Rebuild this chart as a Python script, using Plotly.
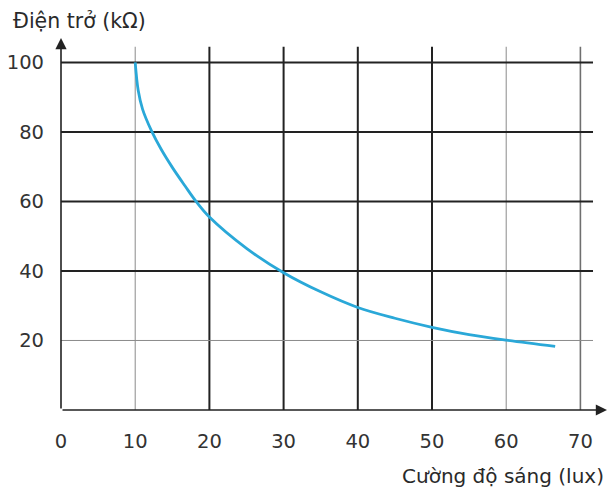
import plotly.graph_objects as go

# ---- data ----
light_lux = [10, 10.4, 11, 12.2, 13.5, 15, 16.7, 18.2, 20, 25, 30, 35, 40, 45, 50, 55, 60, 66.6]
resistance_kohm = [100, 92, 86.5, 80.3, 75, 69.8, 64.5, 60, 55.5, 46.5, 39.5, 34, 29.5, 26.4, 23.8, 21.7, 20.1, 18.3]

x_ticks = [0, 10, 20, 30, 40, 50, 60, 70]
y_ticks = [20, 40, 60, 80, 100]

x_title = "Cường độ sáng (lux)"
y_title = "Điện trở (kΩ)"

# ---- styles ----
THICK = dict(color="#222222", width=2)
THIN = dict(color="#8a8a8a", width=1)
MED = dict(color="#6f6f6f", width=1.6)
x_grid_style = {10: THIN, 20: THICK, 30: THICK, 40: THICK, 50: THICK, 60: THIN, 70: MED}
y_grid_style = {20: THIN, 40: THICK, 60: THICK, 80: THICK, 100: THICK}

W, H = 607, 488
L, T, B = 61, 38, 78
PW, PH = W - L, H - T - B
X_MAX = PW / 7.42
Y_MAX = PH / 3.476
V_TOP = 104.5
H_RIGHT = 71.7
FONT = "DejaVu Sans"

fig = go.Figure()

shapes = []
for v in x_ticks:
    if v in x_grid_style:
        shapes.append(dict(type="line", xref="x", yref="y", x0=v, x1=v, y0=0, y1=V_TOP,
                           line=x_grid_style[v], layer="below"))
for v in y_ticks:
    shapes.append(dict(type="line", xref="x", yref="y", x0=0, x1=H_RIGHT, y0=v, y1=v,
                       line=y_grid_style[v], layer="below"))

fig.add_trace(go.Scatter(
    x=light_lux, y=resistance_kohm, mode="lines",
    line=dict(color="#2aa8d8", width=2.8, shape="spline", smoothing=1.0),
    hoverinfo="skip", showlegend=False,
))

annotations = [
    # axes with arrow heads
    dict(x=X_MAX, y=0, ax=0, ay=0, xref="x", yref="y", axref="x", ayref="y",
         text="", showarrow=True, arrowhead=2, arrowsize=1.4, arrowwidth=1.6,
         arrowcolor="#222222", standoff=0, startstandoff=0),
    dict(x=0, y=Y_MAX, ax=0, ay=0, xref="x", yref="y", axref="x", ayref="y",
         text="", showarrow=True, arrowhead=2, arrowsize=1.4, arrowwidth=1.6,
         arrowcolor="#222222", standoff=0, startstandoff=0),
    # titles (paper coords are relative to the plot area)
    dict(x=(11 - L) / PW, y=1 + (T - 21) / PH, xref="paper", yref="paper",
         text=y_title, showarrow=False, xanchor="left", yanchor="middle",
         font=dict(family=FONT, size=20.5, color="#2a2a2a")),
    dict(x=(606 - L) / PW, y=(H - B - 476) / PH, xref="paper", yref="paper",
         text=x_title, showarrow=False, xanchor="right", yanchor="middle",
         font=dict(family=FONT, size=20, color="#2a2a2a")),
]

fig.update_layout(
    width=W, height=H,
    margin=dict(l=L, r=0, t=T, b=B, pad=0),
    paper_bgcolor="white", plot_bgcolor="white",
    shapes=shapes, annotations=annotations,
    font=dict(family=FONT, size=19.5, color="#333333"),
    xaxis=dict(range=[0, X_MAX], tickvals=x_ticks, showgrid=False, zeroline=False,
               showline=False, ticks="", ticklabelstandoff=17, fixedrange=True),
    yaxis=dict(range=[0, Y_MAX], tickvals=y_ticks, showgrid=False, zeroline=False,
               showline=False, ticks="", ticklabelstandoff=16, fixedrange=True),
)

fig.write_html(
    "out.html",
    config={"displayModeBar": False},
    post_script="document.body.style.margin='0';document.body.style.overflow='hidden';",
)
